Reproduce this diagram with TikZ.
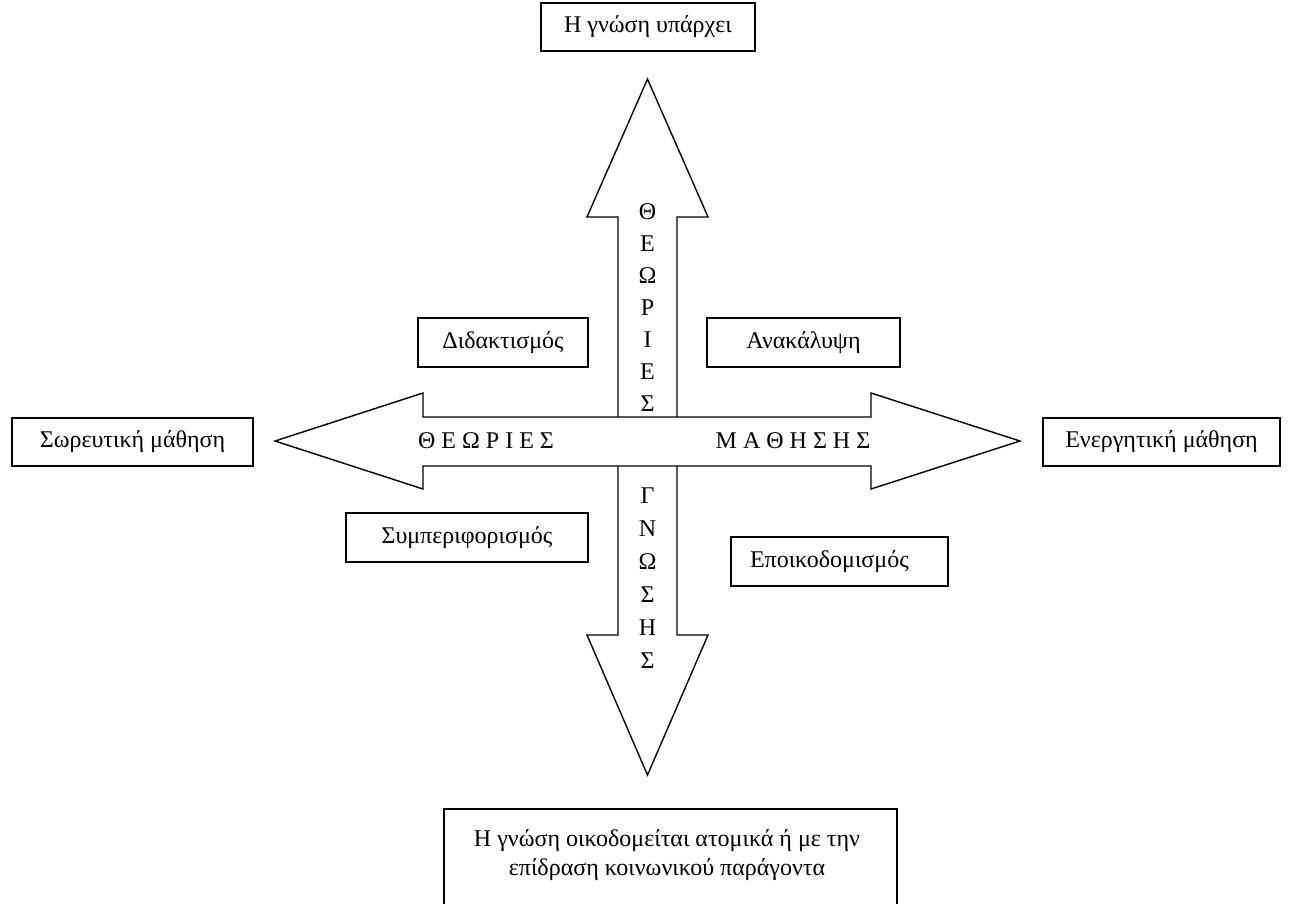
\documentclass[tikz,border=0pt]{standalone}
\usepackage{fontspec}
\setmainfont{Liberation Serif}
\begin{document}
\begin{tikzpicture}[x=1pt,y=-1pt,line width=1.4pt,
  box/.style={draw,line width=1.4pt,inner sep=0pt,font=\fontsize{24}{29}\selectfont},
  lbl/.style={inner sep=0pt,font=\fontsize{24}{29}\selectfont},
  arrowshape/.style={draw,fill=white,line width=1.4pt,line join=miter}]
\useasboundingbox (0,0) rectangle (1291,903);
% vertical double arrow
\path[arrowshape] (647.5,79) -- (708,217) -- (677,217) -- (677,635) -- (708,635)
  -- (647.5,775) -- (587,635) -- (618,635) -- (618,217) -- (587,217) -- cycle;
% horizontal double arrow (in front)
\path[arrowshape] (275,441) -- (423,393) -- (423,417) -- (871,417) -- (871,393)
  -- (1020,441) -- (871,489) -- (871,466) -- (423,466) -- (423,489) -- cycle;
% texts inside arrows
\node[lbl,align=center,font=\fontsize{24}{32}\selectfont] (vup) at (647.5,308) {Θ\\Ε\\Ω\\Ρ\\Ι\\Ε\\Σ};
\node[lbl,align=center,font=\fontsize{24}{33}\selectfont] (vdown) at (647.5,578) {Γ\\Ν\\Ω\\Σ\\Η\\Σ};
\node[lbl] (hleft) at (486,441) {Θ Ε Ω Ρ Ι Ε Σ};
\node[lbl] (hright) at (793,441) {Μ Α Θ Η Σ Η Σ};
% boxes
\node[box,minimum width=214,minimum height=48] (top) at (648,27) {Η γνώση υπάρχει};
\node[box,minimum width=241,minimum height=48] (left) at (132.5,442) {Σωρευτική μάθηση};
\node[box,minimum width=237,minimum height=48] (right) at (1161.5,442) {Ενεργητική μάθηση};
\node[box,minimum width=170,minimum height=49] (did) at (503,342.5) {Διδακτισμός};
\node[box,minimum width=193,minimum height=49] (ana) at (803.5,342.5) {Ανακάλυψη};
\node[box,minimum width=242,minimum height=49] (sym) at (467,537.5) {Συμπεριφορισμός};
\node[box,minimum height=49,text width=179,inner xsep=19pt,align=left] (epo) at (839.5,561.5) {Εποικοδομισμός};
\node[box,minimum width=453,minimum height=110] (bottom) at (670.5,864) {};
\node[lbl,align=center] (bottomtext) at (667,855) {Η γνώση οικοδομείται ατομικά ή με την\\επίδραση κοινωνικού παράγοντα};
\end{tikzpicture}
\end{document}
